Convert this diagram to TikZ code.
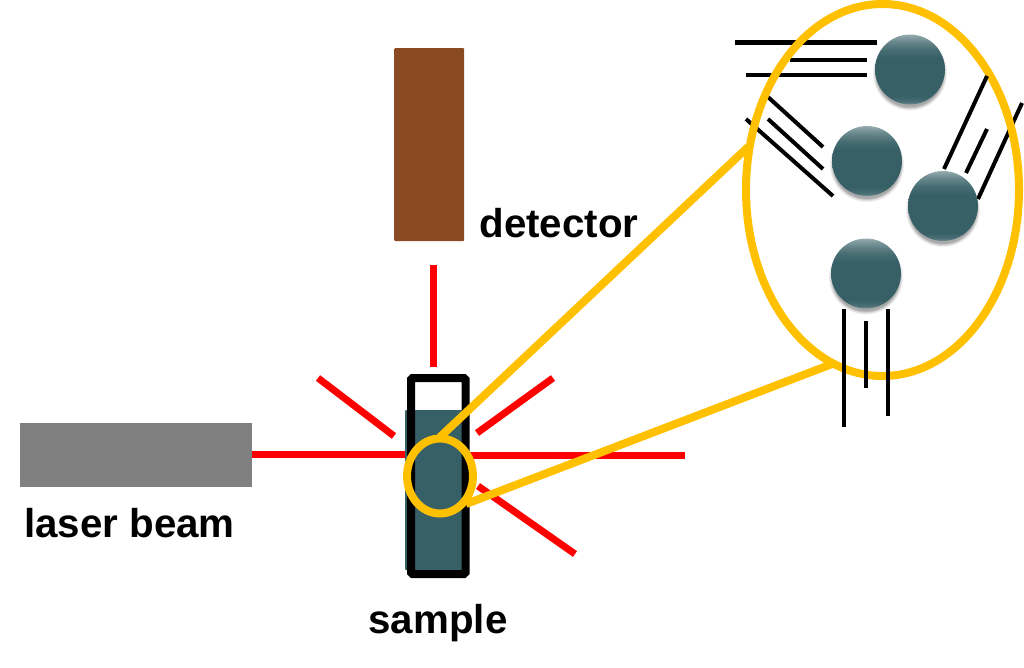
\documentclass[tikz,border=0pt]{standalone}
\usepackage{fontspec}
\setmainfont{Liberation Sans}
\definecolor{teal}{HTML}{366066}
\definecolor{amber}{HTML}{FFC000}
\definecolor{brownbox}{HTML}{8B4B22}
\definecolor{greybox}{HTML}{808080}
\definecolor{beam}{HTML}{FF0000}
\pgfdeclareverticalshading{spherefill}{100bp}{
  color(0bp)=(teal!72!white);
  color(25bp)=(teal!72!white);
  color(27bp)=(teal!90!white);
  color(31bp)=(teal);
  color(58bp)=(teal);
  color(64bp)=(teal!92!white);
  color(69bp)=(teal!78!white);
  color(73bp)=(teal!62!white);
  color(75bp)=(teal!52!white);
  color(100bp)=(teal!52!white)}
\newcommand{\ballat}[2]{%
  \foreach \r/\o in {37/.06,36/.08,35/.1,34/.14}{
    \fill[black,opacity=\o] (#1,#2+4) circle[radius=\r];}
  \shade[shading=spherefill,shading angle=0] (#1,#2) circle[radius=35];
}
\tikzset{
  x=1pt,y=-1pt,
  ray/.style={draw=beam,line width=7pt},
  zoomline/.style={draw=amber,line width=8pt},
  chain/.style={draw=black,line width=4.5pt},
  chainthin/.style={draw=black,line width=4pt},
  label/.style={font=\bfseries\fontsize{40.3}{44}\selectfont,anchor=base,inner sep=0pt,text=black},
}
\begin{document}
\begin{tikzpicture}
\useasboundingbox (0,0) rectangle (1024,667);
% source and detector
\node[fill=greybox,minimum width=232pt,minimum height=64pt,inner sep=0pt,anchor=north west] (laser) at (20,423) {};
\node[fill=brownbox,rounded corners=1pt,minimum width=70pt,minimum height=193pt,inner sep=0pt,anchor=north west] (detector) at (394,48) {};
% rays
\coordinate (r1) at (252,454); \coordinate (r2) at (405,454);
\coordinate (r3) at (470,455); \coordinate (r4) at (685,455);
\coordinate (r5) at (433,265); \coordinate (r6) at (433,367);
\coordinate (r7) at (318,378); \coordinate (r8) at (394,436);
\coordinate (r9) at (553,378); \coordinate (r10) at (477,433);
\coordinate (r11) at (478,486); \coordinate (r12) at (575,554);
\draw[ray] (r1)--(r2);
\draw[ray] (r3)--(r4);
\draw[ray] (r5)--(r6);
\draw[ray] (r7)--(r8);
\draw[ray] (r9)--(r10);
\draw[ray] (r11)--(r12);
% cuvette
\fill[teal,rounded corners=1pt] (405,410) rectangle (465,570);
\draw[black,line width=8pt,rounded corners=1.5pt] (411,378) rectangle (465.5,574);
% black chains under the ring
\draw[chain] (735,42.5)--(877,42.5);
\draw[chain] (790,60)--(867,60);
\draw[chain] (746,75)--(867,75);
\draw[chainthin] (746,119)--(833,196);
\draw[chainthin] (768,97)--(823,147);
\draw[chainthin] (768,119)--(823,169);
\draw[chainthin] (1022,103)--(978,199);
% ring and zoom lines
\draw[zoomline] (882.5,190) ellipse[x radius=136.5,y radius=186];
\draw[zoomline] (440,476) ellipse[x radius=33,y radius=37.5];
\draw[zoomline] (440,437)--(748,147);
\draw[zoomline] (466,504)--(832,364);
% chains over the ring
\draw[chainthin] (987,76)--(944,169);
\draw[chainthin] (987,129)--(966,173);
\draw[chain] (844,309)--(844,427);
\draw[chain] (866,321)--(866,388);
\draw[chain] (888,309)--(888,416);
% particles
\ballat{910}{69.5}
\ballat{867}{161}
\ballat{943}{206}
\ballat{866}{273.5}
% labels
\node[label] (tdet) at (559,237) {detector};
\node[label] (tlas) at (129.5,537) {laser beam};
\node[label] (tsam) at (438,633) {sample};
\end{tikzpicture}
\end{document}
